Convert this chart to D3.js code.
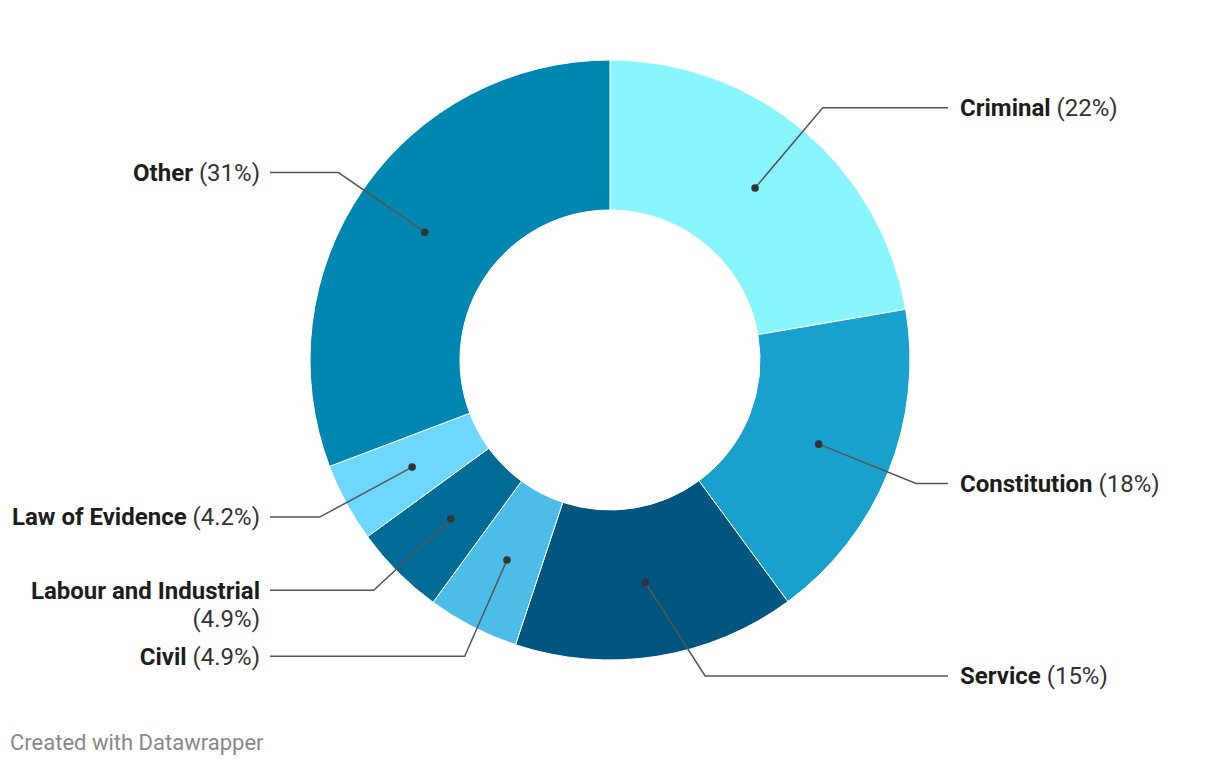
<!DOCTYPE html>
<html><head><meta charset="utf-8">
<script src="https://cdn.jsdelivr.net/npm/d3@7"></script>
<style>
body{margin:0;background:#fff;font-family:Roboto,sans-serif;}
</style></head>
<body>
<svg id="c" width="1220" height="766"></svg>
<script>
const categories = ["Criminal","Constitution","Service","Civil","Labour and Industrial","Law of Evidence","Other"];
const values = [22.3,17.6,15.2,4.94,4.94,4.25,30.77];
const valueLabels = ["22%","18%","15%","4.9%","4.9%","4.2%","31%"];
const colors = ["#89f5ff","#19a1cd","#00567e","#4bbde8","#006b96","#6dd7ff","#0087b1"];
const wrapped = ["Labour and Industrial"];

const W=1220,H=766,cx=610,cy=360,R=300,r0=150,rDot=225,rKnee=330;
const FS=24, LH=28;
const svg=d3.select("#c");
const g=svg.append("g").attr("transform",`translate(${cx},${cy})`);
const data=categories.map((c,i)=>({name:c,value:values[i],label:valueLabels[i],color:colors[i]}));
const pie=d3.pie().value(d=>d.value).sort(null);
const arcs=pie(data);
const arc=d3.arc().innerRadius(r0).outerRadius(R);
g.selectAll("path.s").data(arcs).join("path").attr("class","s")
 .attr("d",arc).attr("fill",d=>d.data.color).attr("stroke","#fff").attr("stroke-width",1);

const maxY=R+16;
const labels=arcs.map(a=>{
  const m=(a.startAngle+a.endAngle)/2;
  const lines=wrapped.includes(a.data.name)?2:1;
  return {a, m, right:Math.sin(m)>=0, dx:Math.sin(m)*rDot, dy:-Math.cos(m)*rDot,
    y:Math.max(-maxY,Math.min(maxY,-Math.cos(m)*rKnee)), lines};
});
// simple collision relaxation per side
[true,false].forEach(side=>{
  const L=labels.filter(l=>l.right===side).sort((p,q)=>p.y-q.y);
  for(let it=0;it<20;it++){
    for(let i=0;i<L.length-1;i++){
      const A=L[i],B=L[i+1];
      const bottomA=A.y+14+(A.lines-1)*LH, topB=B.y-14;
      const gap=topB-bottomA;
      if(gap<10){const s=(10-gap)/2;A.y-=s;B.y+=s;}
    }
  }
});
labels.forEach(l=>{
  const ky=l.y;
  const kx=(l.right?1:-1)*Math.sqrt(Math.max(0,rKnee*rKnee-ky*ky));
  const ex=l.right?338:-340;
  g.append("polyline").attr("points",`${l.dx},${l.dy} ${kx},${ky} ${ex},${ky}`)
   .attr("fill","none").attr("stroke","#555").attr("stroke-width",1.5);
  g.append("circle").attr("cx",l.dx).attr("cy",l.dy).attr("r",3.8).attr("fill","#333");
  const tx=l.right?350:-350;
  const anchor=l.right?"start":"end";
  const t=g.append("text").attr("x",tx).attr("y",ky).attr("dy","0.35em")
   .attr("text-anchor",anchor).attr("font-size",FS).attr("fill","#1d1d1d");
  t.append("tspan").attr("font-weight","bold").text(l.a.data.name);
  if(l.lines===2){
    g.append("text").attr("x",tx).attr("y",ky+LH).attr("dy","0.35em")
     .attr("text-anchor",anchor).attr("font-size",FS).attr("fill","#333").text(`(${l.a.data.label})`);
  } else {
    t.append("tspan").attr("fill","#333").text(` (${l.a.data.label})`);
  }
});

svg.append("text").attr("x",10).attr("y",750).attr("font-size",22).attr("fill","#888").text("Created with Datawrapper");
</script>
</body></html>
